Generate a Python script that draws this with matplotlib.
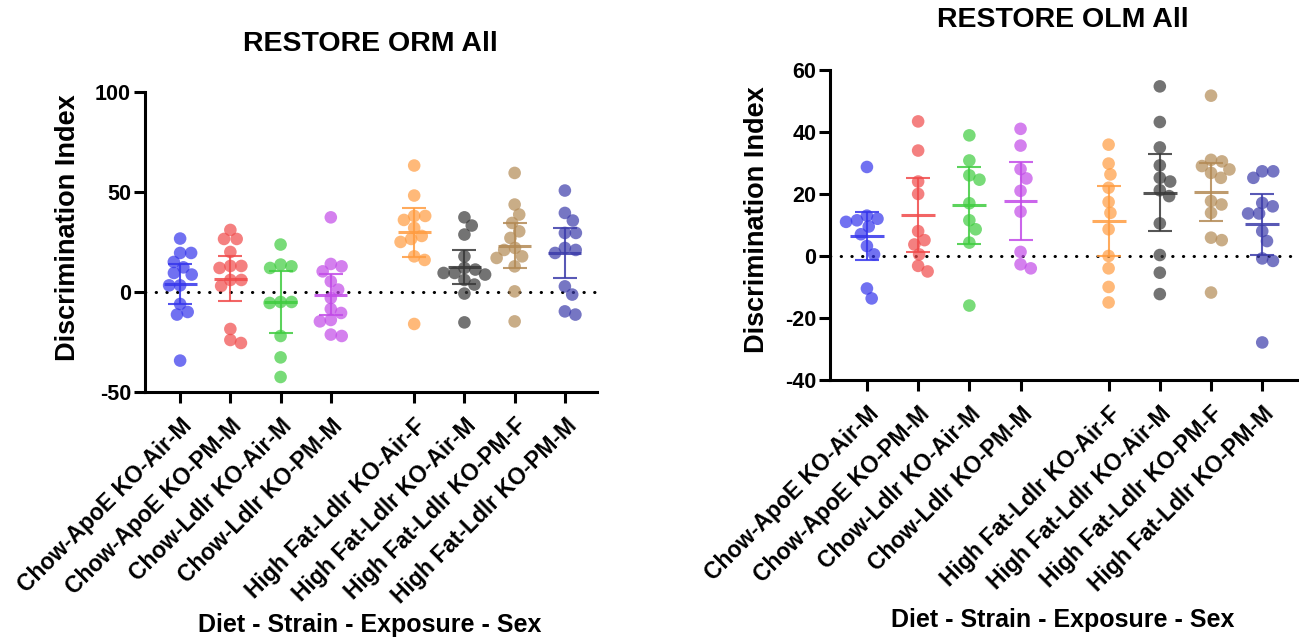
import numpy as np
import matplotlib
matplotlib.use("Agg")
import matplotlib.pyplot as plt

plt.rcParams['font.family'] = ['Liberation Sans', 'DejaVu Sans']
plt.rcParams['font.weight'] = 'bold'
plt.rcParams['axes.unicode_minus'] = False

groups = ["Chow-ApoE KO-Air-M", "Chow-ApoE KO-PM-M", "Chow-Ldlr KO-Air-M", "Chow-Ldlr KO-PM-M",
          "High Fat-Ldlr KO-Air-F", "High Fat-Ldlr KO-Air-M", "High Fat-Ldlr KO-PM-F", "High Fat-Ldlr KO-PM-M"]
colors = ['#3535ec', '#f04a4a', '#3fcc3f', '#c24ae8', '#ff9c40', '#383838', '#b38a55', '#3c3caa']

# ORM values
orm = [
    [26.7, 19.5, 19.5, 15, 12.3, 9.5, 8.7, 3.3, 3.3, -6, -11.3, -10, -34.3],
    [31, 26.5, 26.5, 20, 13, 13, 12, 6, 6, 3, -18.5, -25.5, -24],
    [23.7, 12.8, 13.7, 12, -5, -5.5, -5, -22, -32.7, -42.5],
    [37.3, 10.3, 12.8, 14, 5.3, 1.2, -3, -10.5, -8.5, -14, -14.7, -22, -21.3],
    [63.2, 48.2, 38, 36, 38, 32, 28, 26.5, 25, 17.8, 16, -16],
    [37.3, 33.2, 28.7, 17.8, 12, 11.2, 8.7, 9.5, 9.5, 6, 3.7, -0.8, -15.2],
    [59.5, 43.7, 38.7, 34.5, 30.3, 27, 22, 21, 17.8, 17, 12.8, 0.3, -14.7],
    [50.7, 39.5, 35.7, 29.5, 29.5, 22, 21, 19.5, 2.8, -1.3, -11.3, -9.7],
]
orm_mean = [4, 6.7, -5, -1.3, 29.8, 12.3, 23.2, 19.5]
orm_err = [10, 11.2, 15.6, 10.2, 12.3, 8.5, 11.2, 12.6]

# OLM values
olm = [
    [28.7, 13, 12, 11.5, 11, 9.5, 7, 3.2, 0.5, -10.5, -13.7],
    [43.4, 34, 24, 20, 8, 5.1, 3.7, 0.5, -3.2, -5],
    [38.9, 30.8, 24.6, 26, 17, 11.5, 8.6, 4.3, -16],
    [41, 35.6, 28, 25, 21, 14.3, 1.3, -2.7, -4],
    [35.9, 29.8, 26.3, 22, 17.4, 13.9, 8.6, 0, -4, -10, -15],
    [54.7, 43.2, 35, 29.2, 24, 25.2, 19.3, 21.2, 10.5, 0.3, -5.4, -12.3],
    [51.7, 31, 30.5, 27.9, 29, 26.8, 25.2, 16.6, 17.7, 13.9, 5.9, 5.1, -11.8],
    [27.3, 27.3, 25.2, 17.1, 16, 13.7, 13.7, 8, 4.8, -0.8, -1.6, -27.9],
]
olm_mean = [6.4, 13.2, 16.3, 17.7, 11.3, 20.4, 20.6, 10.2]
olm_err = [7.7, 11.8, 12.5, 12.7, 11.4, 12.4, 9.3, 9.8]


def swarm(ax, xc, vals, diam):
    pts = ax.transData.transform(np.column_stack([np.full(len(vals), xc), vals]))
    ys = pts[:, 1]
    x0 = pts[0, 0]
    xs = np.zeros(len(vals))
    placed = []
    for i in np.argsort(vals)[::-1]:
        y = ys[i]
        cands = [0.0]
        for px, py in placed:
            dy = abs(py - y)
            if dy < diam:
                dx = np.sqrt(diam ** 2 - dy ** 2)
                cands += [px + dx, px - dx]
        cands.sort(key=abs)
        for c in cands:
            if all((c - px) ** 2 + (y - py) ** 2 >= diam ** 2 - 1e-6 for px, py in placed):
                break
        placed.append((c, y))
        xs[i] = c
    inv = ax.transData.inverted()
    return inv.transform(np.column_stack([x0 + xs, ys]))[:, 0]


def panel(ax, xpos, data, means, errs, xlim, ylim, yticks):
    ax.set_xlim(*xlim)
    ax.set_ylim(*ylim)
    for sp in ['top', 'right']:
        ax.spines[sp].set_visible(False)
    for sp in ['left', 'bottom']:
        ax.spines[sp].set_linewidth(2.2)
    ax.tick_params(width=2.2, length=8, labelsize=15.5, pad=2)
    ax.tick_params(axis='x', pad=8)
    ax.set_yticks(yticks)
    ax.set_xticks(xpos)
    ax.set_xticklabels(groups, rotation=45, ha='right', va='top',
                       rotation_mode='anchor', fontsize=16.5)
    ax.axhline(0, color='black', lw=2.2, linestyle=(0, (0.1, 3.4)),
               dash_capstyle='round', zorder=1)
    for x, vals, m, e, c in zip(xpos, data, means, errs, colors):
        xs = swarm(ax, x, vals, 11)
        ax.scatter(xs, vals, s=82, color=c, alpha=0.7, edgecolors='none', zorder=2, clip_on=False)
        ax.hlines(m, x - 0.33, x + 0.33, color=c, lw=2.2, alpha=0.85, zorder=3)
        ax.errorbar(x, m, yerr=e, color=c, lw=1.5, capsize=8.5, capthick=1.5,
                    alpha=0.85, zorder=3)


fig = plt.figure(figsize=(12.99, 6.44), dpi=100)
ax1 = fig.add_axes([0.1116, 0.3913, 0.348, 0.466])
ax2 = fig.add_axes([0.639, 0.41, 0.3595, 0.4814])

panel(ax1, [0, 1, 2, 3, 4.66, 5.66, 6.66, 7.66], orm, orm_mean, orm_err,
      (-0.7, 8.3), (-50, 100), [-50, 0, 50, 100])
panel(ax2, [0, 1, 2, 3, 4.72, 5.72, 6.72, 7.72], olm, olm_mean, olm_err,
      (-0.72, 8.4), (-40, 60), [-40, -20, 0, 20, 40, 60])

W, H = 1299, 644
fig.text(370 / W, 1 - 44 / H, "RESTORE ORM All", ha='center', va='center', fontsize=20.5)
fig.text(1063 / W, 1 - 20 / H, "RESTORE OLM All", ha='center', va='center', fontsize=20.5)
fig.text(68 / W, 1 - 228 / H, "Discrimination Index", rotation=90, ha='center', va='center', fontsize=19.5)
fig.text(757 / W, 1 - 220 / H, "Discrimination Index", rotation=90, ha='center', va='center', fontsize=19.5)
fig.text(370 / W, 1 - 625 / H, "Diet - Strain - Exposure - Sex", ha='center', va='center', fontsize=18)
fig.text(1063 / W, 1 - 620 / H, "Diet - Strain - Exposure - Sex", ha='center', va='center', fontsize=18)

fig.savefig("out.png", dpi=100)
